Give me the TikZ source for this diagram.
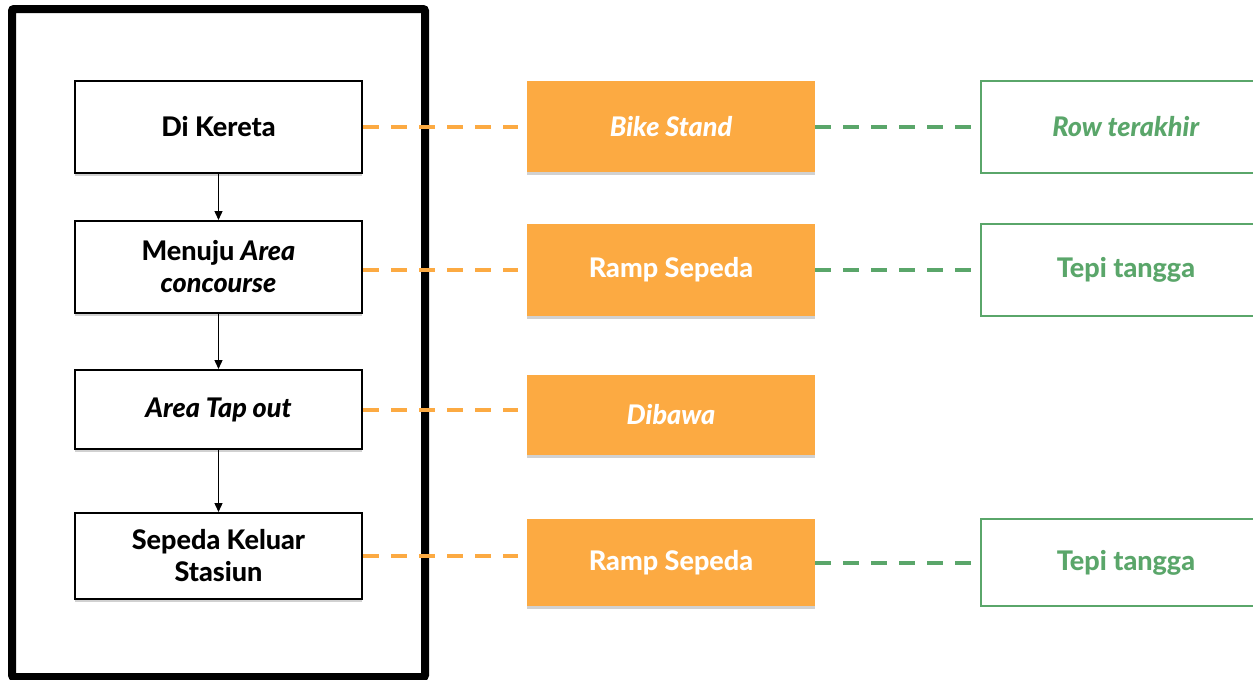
\documentclass[tikz,border=0pt]{standalone}
\usepackage{fontspec}
\setmainfont{Lato}[BoldFont={Lato Heavy}, BoldItalicFont={Lato Heavy Italic}]
\usetikzlibrary{arrows.meta,shadows}
\definecolor{oran}{RGB}{252,170,66}
\definecolor{grn}{RGB}{90,166,106}
\tikzset{
  lbox/.style={draw=black, line width=2pt, fill=white, minimum width=287pt, align=center,
    font=\fontsize{27}{32}\selectfont\bfseries, text=black,
    drop shadow={shadow xshift=0pt, shadow yshift=-3pt, opacity=0.18, fill=black}},
  obox/.style={fill=oran, minimum width=288pt, align=center,
    font=\fontsize{27}{32}\selectfont\bfseries, text=white,
    drop shadow={shadow xshift=0pt, shadow yshift=-3pt, opacity=0.18, fill=black}},
  gbox/.style={draw=grn, line width=2pt, fill=white, minimum width=290pt, align=center,
    font=\fontsize{27}{32}\selectfont\bfseries, text=grn},
  flowarrow/.style={line width=1.4pt, -{Triangle[length=9pt,width=8pt]}},
  odash/.style={draw=oran, line width=4pt, dash pattern=on 16pt off 12pt, shorten >=9pt},
  gdash/.style={draw=grn, line width=4pt, dash pattern=on 16pt off 12pt, shorten >=9pt},
}
\begin{document}
\begin{tikzpicture}[x=1pt,y=-1pt]
\clip (0,0) rectangle (1253,680);
\fill[white] (0,0) rectangle (1253,680);
\draw[line width=8pt, rounded corners=2pt] (12,9) rectangle (425,677);

\node[lbox, minimum height=92pt] (L1) at (218.5,127) {Di Kereta};
\node[lbox, minimum height=92pt] (L2) at (218.5,267) {Menuju \textit{Area}\\\textit{concourse}};
\node[lbox, minimum height=79pt] (L3) at (218.5,409.5) {\textit{Area Tap out}};
\node[lbox, minimum height=86pt] (L4) at (218.5,556) {Sepeda Keluar\\Stasiun};

\node[obox, minimum height=91pt] (O1) at (671,126.5) {\textit{Bike Stand}};
\node[obox, minimum height=92pt] (O2) at (671,270) {Ramp Sepeda};
\node[obox, minimum height=80pt] (O3) at (671,415) {\textit{Dibawa}};
\node[obox, minimum height=87pt] (O4) at (671,562.5) {Ramp Sepeda};

\node[gbox, minimum height=92pt, anchor=west] (G1) at (980,127) {\textit{Row terakhir}};
\node[gbox, minimum height=92pt, anchor=west] (G2) at (980,270) {Tepi tangga};
\node[gbox, minimum height=87pt, anchor=west] (G4) at (980,562.5) {Tepi tangga};

\draw[flowarrow] (L1.south) -- (L2.north);
\draw[flowarrow] (L2.south) -- (L3.north);
\draw[flowarrow] (L3.south) -- (L4.north);

\draw[odash] (L1.east) -- (L1.east -| O1.west);
\draw[odash] (L2.east |- O2.west) -- (O2.west);
\draw[odash] (L3.east) -- (L3.east -| O3.west);
\draw[odash] (L4.east) -- (L4.east -| O4.west);

\draw[gdash] (O1.east) -- (O1.east -| G1.west);
\draw[gdash] (O2.east) -- (O2.east -| G2.west);
\draw[gdash] (O4.east) -- (O4.east -| G4.west);
\end{tikzpicture}
\end{document}
